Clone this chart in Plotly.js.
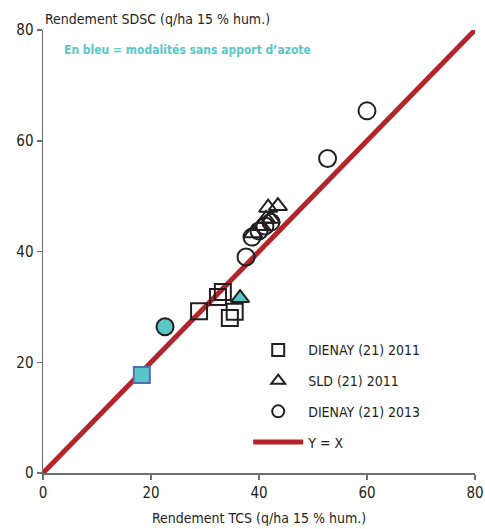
<!DOCTYPE html>
<html>
<head>
<meta charset="utf-8">
<script src="https://cdn.plot.ly/plotly-3.0.1.min.js"></script>
<style>html,body{margin:0;padding:0;background:#fff;}#chart{width:485px;height:529px;}</style>
</head>
<body>
<div id="chart"></div>
<script>
// DIENAY (21) 2011 (squares, with nitrogen)
var sqX = [28.9, 32.4, 33.3, 34.6, 35.5];
var sqY = [29.2, 31.8, 32.7, 28.0, 29.1];
// SLD (21) 2011 (triangles, with nitrogen)
var triX = [38.9, 40.4, 41.3, 42.2, 41.7, 43.5];
var triY = [43.3, 44.6, 45.9, 45.9, 47.9, 48.2];
// DIENAY (21) 2013 (circles, with nitrogen)
var cirX = [60.0, 52.7, 37.6, 38.7, 40.0, 41.1, 42.2];
var cirY = [65.4, 56.8, 39.0, 42.6, 43.7, 44.6, 45.3];
// Without nitrogen (blue): square, triangle, circle
var blueSqX = [18.3], blueSqY = [17.7];
var blueTriX = [36.5], blueTriY = [31.6];
var blueCirX = [22.6], blueCirY = [26.4];
// Y = X line
var lineX = [0, 80];
var lineY = [0, 80];
var names = ["DIENAY (21) 2011", "SLD (21) 2011", "DIENAY (21) 2013", "Y = X"];
var ticks = [0, 20, 40, 60, 80];

var FONT = "'Liberation Sans Narrow', 'DejaVu Sans Condensed', 'Roboto', sans-serif";
var BLACK = "#231f20";
var CYAN = "#5bc6c8";
var RED = "#b3242b";

var traces = [
  {x: lineX, y: lineY, mode: "lines", name: names[3], line: {color: RED, width: 5},
   legendgroup: "d", legendrank: 4},
  {x: sqX, y: sqY, mode: "markers", name: names[0], legendgroup: "a", legendrank: 1,
   marker: {symbol: "square-open", size: 16, color: BLACK, line: {width: 2, color: BLACK}}},
  {x: triX, y: triY, mode: "markers", name: names[1], legendgroup: "b", legendrank: 2,
   marker: {symbol: "triangle-up-open", size: 16, color: BLACK, line: {width: 2, color: BLACK}}},
  {x: cirX, y: cirY, mode: "markers", name: names[2], legendgroup: "c", legendrank: 3,
   marker: {symbol: "circle-open", size: 17, color: BLACK, line: {width: 2, color: BLACK}}},
  {x: blueSqX, y: blueSqY, mode: "markers", showlegend: false,
   marker: {symbol: "square", size: 16, color: CYAN, line: {width: 2, color: "#4d72b0"}}},
  {x: blueTriX, y: blueTriY, mode: "markers", showlegend: false,
   marker: {symbol: "triangle-up", size: 16, color: CYAN, line: {width: 2, color: BLACK}}},
  {x: blueCirX, y: blueCirY, mode: "markers", showlegend: false,
   marker: {symbol: "circle", size: 17, color: CYAN, line: {width: 2, color: BLACK}}}
];

var axisBase = {
  range: [0, 80], tickvals: ticks, ticktext: ticks.map(String),
  showgrid: false, zeroline: false, showline: true, linecolor: "#6d6e70", linewidth: 1.5,
  ticks: "outside", ticklen: 5, tickwidth: 1.5, tickcolor: "#6d6e70",
  tickfont: {family: FONT, size: 15, color: "#231f20"}, fixedrange: true
};

var layout = {
  width: 485, height: 529,
  margin: {l: 43, r: 10, t: 30, b: 56},
  paper_bgcolor: "#fff", plot_bgcolor: "#fff",
  font: {family: FONT, color: "#231f20"},
  showlegend: true,
  legend: {x: 0.475, y: 0.313, xanchor: "left", yanchor: "top", traceorder: "grouped",
    tracegroupgap: 9.5, itemsizing: "constant", itemwidth: 50, bgcolor: "rgba(0,0,0,0)",
    font: {family: FONT, size: 14, color: "#231f20"}},
  xaxis: Object.assign({}, axisBase, {title: {text: "Rendement TCS (q/ha 15 % hum.)",
    font: {family: FONT, size: 14, color: "#231f20"}, standoff: 12}}),
  yaxis: Object.assign({}, axisBase, {title: {text: ""}}),
  annotations: [
    {text: "Rendement SDSC (q/ha 15 % hum.)", xref: "paper", yref: "paper", x: 0, y: 1,
     xanchor: "left", yanchor: "bottom", yshift: 1, showarrow: false,
     font: {family: FONT, size: 14, color: "#231f20"}},
    {text: "<b>En bleu = modalités sans apport d’azote</b>", xref: "paper", yref: "paper",
     x: 0.044, y: 0.955, xanchor: "left", yanchor: "middle", showarrow: false,
     font: {family: FONT, size: 12, color: CYAN}}
  ]
};

Plotly.newPlot("chart", traces, layout, {displayModeBar: false, staticPlot: true});
</script>
</body>
</html>
